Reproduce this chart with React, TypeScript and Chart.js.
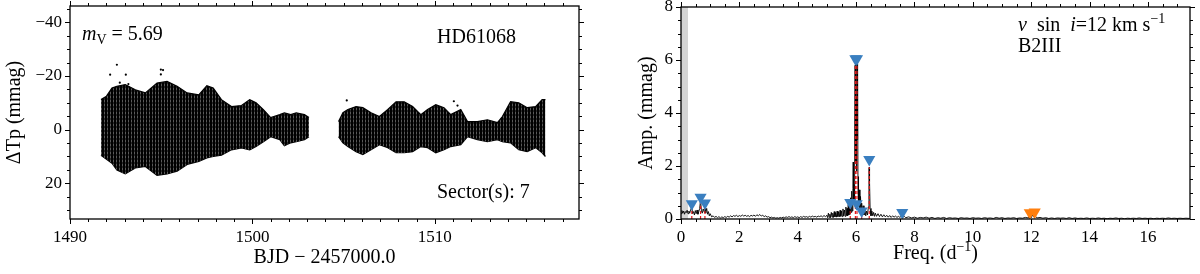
import React, { useEffect, useRef } from 'react';
import { Chart, registerables } from 'chart.js';

Chart.register(...registerables);

const SERIF = '"Liberation Serif", "Times New Roman", serif';

// ---------- Light curve (envelope of the dense TESS photometry, mmag) ----------
const seg1Time = [1491.70, 1492.00, 1492.30, 1492.57, 1493.03, 1493.58, 1494.13, 1494.77, 1495.32, 1495.87, 1496.42, 1497.06, 1497.50, 1497.85, 1498.30, 1498.85, 1499.40, 1499.85, 1500.20, 1500.60, 1501.00, 1501.50, 1501.75, 1502.10, 1502.40, 1502.85, 1503.10];
const seg1Top = [-11.2, -12.5, -15.5, -16.2, -16.8, -14.9, -13.7, -17.4, -18.0, -16.2, -13.7, -13.0, -16.4, -15.5, -11.2, -8.6, -9.0, -11.2, -10.0, -7.5, -4.5, -5.6, -6.3, -5.6, -6.3, -5.6, -4.5];
const seg1Bottom = [9.5, 11.0, 12.5, 15.0, 16.5, 14.3, 13.7, 17.0, 16.5, 15.5, 13.0, 11.8, 10.5, 10.0, 9.5, 7.5, 6.8, 7.5, 6.3, 4.5, 2.6, 3.7, 6.0, 4.9, 4.5, 3.7, 2.6];

const seg2Time = [1504.72, 1504.96, 1505.23, 1505.68, 1506.05, 1506.50, 1506.96, 1507.42, 1507.87, 1508.32, 1508.78, 1509.23, 1509.60, 1510.05, 1510.50, 1510.87, 1511.42, 1511.79, 1512.33, 1512.88, 1513.43, 1513.70, 1514.15, 1514.60, 1515.06, 1515.52, 1515.88, 1516.06];
const seg2Top = [-3.0, -6.3, -7.5, -8.6, -8.2, -6.3, -4.9, -7.5, -10.4, -10.4, -8.6, -5.6, -7.5, -9.3, -8.2, -5.6, -7.5, -3.0, -3.0, -3.7, -2.6, -4.9, -10.4, -10.0, -8.2, -8.6, -11.2, -11.2];
const seg2Bottom = [2.6, 4.9, 6.3, 8.2, 9.3, 7.5, 5.6, 6.7, 8.6, 8.6, 8.2, 6.3, 6.7, 8.6, 7.5, 6.3, 5.6, 2.6, 3.7, 4.5, 3.7, 4.5, 4.9, 7.5, 8.2, 6.7, 8.6, 10.0];

const outlierTime = [1492.20, 1492.57, 1492.73, 1493.06, 1493.20, 1494.98, 1495.10, 1494.98, 1505.17, 1511.04, 1511.24];
const outlierVal = [-20.5, -24.2, -17.5, -20.5, -17.0, -22.4, -22.2, -20.6, -10.9, -10.6, -9.0];

// ---------- Amplitude spectrum ----------
const periodogram: [number, number][] = [
  [0.00, 0.20], [0.03, 0.32], [0.06, 0.22], [0.09, 0.30], [0.12, 0.18], [0.15, 0.28], [0.18, 0.24], [0.21, 0.33],
  [0.24, 0.20], [0.27, 0.30], [0.30, 0.22], [0.33, 0.35], [0.37, 0.45], [0.40, 0.20], [0.43, 0.28], [0.46, 0.15],
  [0.49, 0.32], [0.52, 0.20], [0.55, 0.34], [0.58, 0.18], [0.61, 0.28], [0.64, 0.40], [0.67, 0.72], [0.70, 0.30],
  [0.73, 0.22], [0.76, 0.38], [0.80, 0.25], [0.82, 0.48], [0.85, 0.22], [0.88, 0.40], [0.91, 0.18], [0.94, 0.28],
  [0.97, 0.12], [1.00, 0.20], [1.05, 0.08], [1.10, 0.12], [1.15, 0.06], [1.20, 0.10], [1.25, 0.05], [1.30, 0.09],
  [1.35, 0.04], [1.40, 0.08], [1.45, 0.05], [1.50, 0.09], [1.55, 0.06], [1.60, 0.10], [1.65, 0.07], [1.70, 0.12],
  [1.75, 0.08], [1.80, 0.13], [1.85, 0.10], [1.90, 0.14], [1.95, 0.09], [2.00, 0.13], [2.05, 0.10], [2.10, 0.15],
  [2.15, 0.11], [2.20, 0.14], [2.25, 0.10], [2.30, 0.13], [2.35, 0.09], [2.40, 0.14], [2.45, 0.11], [2.50, 0.15],
  [2.55, 0.10], [2.60, 0.16], [2.65, 0.12], [2.70, 0.17], [2.75, 0.11], [2.80, 0.14], [2.85, 0.09], [2.90, 0.12],
  [2.95, 0.07], [3.00, 0.09], [3.05, 0.05], [3.10, 0.07], [3.15, 0.04], [3.20, 0.06], [3.25, 0.03], [3.30, 0.05],
  [3.35, 0.03], [3.40, 0.06], [3.45, 0.04], [3.50, 0.07], [3.55, 0.05], [3.60, 0.08], [3.65, 0.06], [3.70, 0.09],
  [3.75, 0.06], [3.80, 0.08], [3.85, 0.05], [3.90, 0.09], [3.95, 0.06], [4.00, 0.08], [4.05, 0.05], [4.10, 0.09],
  [4.15, 0.06], [4.20, 0.10], [4.25, 0.07], [4.30, 0.09], [4.35, 0.06], [4.40, 0.10], [4.45, 0.07], [4.50, 0.11],
  [4.55, 0.08], [4.60, 0.10], [4.65, 0.07], [4.70, 0.11], [4.75, 0.09], [4.80, 0.12], [4.85, 0.08], [4.90, 0.13],
  [4.95, 0.09], [5.00, 0.14], [5.025, 0.05], [5.05, 0.22], [5.075, 0.06], [5.10, 0.18], [5.125, 0.05], [5.15, 0.25],
  [5.175, 0.07], [5.20, 0.22], [5.225, 0.06], [5.25, 0.28], [5.275, 0.08], [5.30, 0.24], [5.325, 0.07], [5.35, 0.30],
  [5.375, 0.09], [5.40, 0.27], [5.425, 0.08], [5.45, 0.33], [5.475, 0.10], [5.50, 0.30], [5.525, 0.09], [5.55, 0.38],
  [5.575, 0.11], [5.60, 0.34], [5.625, 0.10], [5.65, 0.45], [5.67, 0.13], [5.69, 0.40], [5.71, 0.12], [5.73, 0.55],
  [5.75, 0.15], [5.77, 0.50], [5.79, 0.18], [5.81, 0.80], [5.83, 0.25], [5.85, 1.05], [5.87, 0.30], [5.89, 1.15],
  [5.90, 2.15], [5.915, 0.60], [5.93, 1.30], [5.945, 0.70], [5.955, 3.40], [5.965, 5.80], [5.975, 3.00], [5.985, 5.85],
  [5.995, 2.20], [6.005, 4.60], [6.015, 1.80], [6.025, 5.70], [6.035, 5.85], [6.045, 3.00], [6.055, 5.60], [6.065, 1.20],
  [6.075, 1.60], [6.09, 0.50], [6.11, 1.10], [6.13, 0.35], [6.15, 0.85], [6.17, 0.30], [6.19, 0.60], [6.21, 0.20],
  [6.24, 0.50], [6.27, 0.15], [6.30, 0.40], [6.33, 0.12], [6.36, 0.30], [6.39, 0.15], [6.42, 0.45], [6.44, 1.90],
  [6.45, 1.95], [6.46, 1.40], [6.48, 0.40], [6.51, 0.12], [6.54, 0.30], [6.57, 0.12], [6.60, 0.25], [6.63, 0.10],
  [6.66, 0.22], [6.70, 0.10], [6.75, 0.20], [6.80, 0.09], [6.85, 0.18], [6.90, 0.08], [6.95, 0.16], [7.00, 0.08],
  [7.05, 0.14], [7.10, 0.07], [7.15, 0.13], [7.20, 0.06], [7.25, 0.12], [7.30, 0.07], [7.35, 0.11], [7.40, 0.06],
  [7.45, 0.10], [7.50, 0.06], [7.55, 0.11], [7.58, 0.17], [7.61, 0.07], [7.65, 0.10], [7.70, 0.05], [7.80, 0.08],
  [7.90, 0.04], [8.00, 0.07], [8.10, 0.03], [8.20, 0.06], [8.30, 0.04], [8.40, 0.07], [8.50, 0.03], [8.60, 0.06],
  [8.70, 0.02], [8.80, 0.05], [8.90, 0.03], [9.00, 0.06], [9.10, 0.02], [9.20, 0.05], [9.30, 0.03], [9.40, 0.04],
  [9.50, 0.02], [9.60, 0.05], [9.70, 0.03], [9.80, 0.04], [9.90, 0.02], [10.00, 0.05], [10.10, 0.03], [10.20, 0.04],
  [10.30, 0.02], [10.40, 0.05], [10.50, 0.03], [10.60, 0.04], [10.70, 0.02], [10.80, 0.06], [10.90, 0.03], [11.00, 0.05],
  [11.10, 0.02], [11.20, 0.04], [11.30, 0.03], [11.40, 0.05], [11.50, 0.02], [11.60, 0.04], [11.70, 0.03], [11.80, 0.06],
  [11.90, 0.04], [11.95, 0.14], [12.00, 0.05], [12.05, 0.16], [12.10, 0.06], [12.15, 0.10], [12.20, 0.04], [12.30, 0.06],
  [12.40, 0.03], [12.50, 0.05], [12.60, 0.02], [12.70, 0.04], [12.80, 0.02], [12.90, 0.04], [13.00, 0.03], [13.10, 0.04],
  [13.20, 0.02], [13.30, 0.05], [13.40, 0.02], [13.50, 0.04], [13.60, 0.02], [13.70, 0.03], [13.80, 0.02], [13.90, 0.04],
  [14.00, 0.02], [14.10, 0.03], [14.20, 0.02], [14.30, 0.04], [14.40, 0.02], [14.50, 0.03], [14.60, 0.01], [14.70, 0.03],
  [14.80, 0.02], [14.90, 0.04], [15.00, 0.02], [15.10, 0.03], [15.20, 0.01], [15.30, 0.03], [15.40, 0.02], [15.50, 0.03],
  [15.60, 0.02], [15.70, 0.04], [15.80, 0.02], [15.90, 0.03], [16.00, 0.02], [16.10, 0.03], [16.20, 0.01], [16.30, 0.03],
  [16.40, 0.02], [16.50, 0.03], [16.60, 0.02], [16.70, 0.04], [16.80, 0.02], [16.90, 0.03], [17.00, 0.02], [17.10, 0.03],
  [17.20, 0.02], [17.30, 0.03], [17.43, 0.02],
];

// extracted frequencies (red dashed stems)
const stemFreq = [0.37, 0.67, 0.82, 5.80, 5.975, 6.03, 6.19, 6.45];
const stemAmp = [0.42, 0.70, 0.45, 0.50, 5.85, 5.85, 0.20, 1.95];

// markers (triangles)
const blueMarkFreq = [0.37, 0.67, 0.82, 5.80, 6.02, 6.19, 5.975, 6.03, 6.45, 7.58];
const blueMarkAmp = [0.58, 0.82, 0.60, 0.62, 0.58, 0.30, 6.05, 6.05, 2.25, 0.25];
const orangeMarkFreq = [11.95, 12.12];
const orangeMarkAmp = [0.24, 0.26];

const lowFreqLimit = 0.24; // shaded band

// ---------- plugins ----------
type Run = { t: string; it?: boolean; sub?: boolean; sup?: boolean };

function runFont(r: Run, size: number) {
  const s = r.sub || r.sup ? Math.round(size * 0.7) : size;
  return `${r.it ? 'italic ' : ''}${s}px ${SERIF}`;
}
function runsWidth(ctx: CanvasRenderingContext2D, runs: Run[], size: number) {
  let w = 0;
  for (const r of runs) { ctx.font = runFont(r, size); w += ctx.measureText(r.t).width; }
  return w;
}
function drawRuns(ctx: CanvasRenderingContext2D, x: number, y: number, runs: Run[], size: number, align: 'left' | 'center' = 'left') {
  let cx = align === 'center' ? x - runsWidth(ctx, runs, size) / 2 : x;
  ctx.textAlign = 'left';
  ctx.textBaseline = 'alphabetic';
  for (const r of runs) {
    ctx.font = runFont(r, size);
    const dy = r.sub ? size * 0.22 : r.sup ? -size * 0.42 : 0;
    ctx.fillText(r.t, cx, y + dy);
    cx += ctx.measureText(r.t).width;
  }
}

const framePlugin = {
  id: 'frameTicks',
  beforeDatasetsDraw(chart: any, _a: any, opts: any) {
    if (!opts.band) return;
    const { ctx, chartArea: a, scales } = chart;
    const x0 = scales.x.getPixelForValue(opts.band[0]);
    const x1 = scales.x.getPixelForValue(opts.band[1]);
    ctx.save();
    ctx.fillStyle = '#d4d4d4';
    ctx.fillRect(Math.max(x0, a.left), a.top, x1 - Math.max(x0, a.left), a.height);
    ctx.restore();
  },
  afterDraw(chart: any, _a: any, opts: any) {
    const { ctx, chartArea: a, scales } = chart;
    const xs = scales.x, ys = scales.y;
    ctx.save();
    ctx.strokeStyle = '#000';
    ctx.lineWidth = 1;
    const each = (sc: any, step: number, fn: (p: number) => void) => {
      const lo = Math.min(sc.min, sc.max), hi = Math.max(sc.min, sc.max);
      const start = Math.ceil(lo / step - 1e-9);
      for (let k = start; k * step <= hi + 1e-9; k++) fn(sc.getPixelForValue(k * step));
    };
    const xt = (len: number) => (p: number) => {
      const q = Math.round(p) + 0.5;
      ctx.beginPath();
      ctx.moveTo(q, a.bottom); ctx.lineTo(q, a.bottom + len);
      ctx.moveTo(q, a.top); ctx.lineTo(q, a.top - len);
      ctx.stroke();
    };
    const yt = (len: number) => (p: number) => {
      const q = Math.round(p) + 0.5;
      ctx.beginPath();
      ctx.moveTo(a.left, q); ctx.lineTo(a.left - len, q);
      ctx.moveTo(a.right, q); ctx.lineTo(a.right + len, q);
      ctx.stroke();
    };
    each(xs, opts.xMinor, xt(3));
    each(xs, opts.xMajor, xt(5));
    each(ys, opts.yMinor, yt(3));
    each(ys, opts.yMajor, yt(5));
    ctx.lineWidth = 1.3;
    ctx.strokeRect(a.left, a.top, a.right - a.left, a.bottom - a.top);
    ctx.fillStyle = '#000';
    for (const item of opts.texts || []) drawRuns(ctx, item.x, item.y, item.runs, item.size, item.align || 'left');
    ctx.restore();
  },
};

// vertical-stripe fill imitating the densely sampled points
function stripePattern(): CanvasPattern | string {
  const c = document.createElement('canvas');
  c.width = 3; c.height = 4;
  const g = c.getContext('2d');
  if (!g) return '#000';
  g.fillStyle = '#000'; g.fillRect(0, 0, 3, 4);
  g.fillStyle = '#5a5a5a'; g.fillRect(2, 0, 1, 2);
  g.fillStyle = '#2a2a2a'; g.fillRect(2, 2, 1, 2);
  return g.createPattern(c, 'repeat') || '#000';
}

const fmt = (v: any) => { const n = Number(v); return n < 0 ? '\u2212' + Math.abs(n) : String(n); };
const tickFont = { family: SERIF, size: 17 };
const titleFont = { family: SERIF, size: 20 };
const fitX = (s: any) => { s.height = 55; s.paddingLeft = 0; s.paddingRight = 0; s.paddingTop = 0; s.paddingBottom = 0; };
const fitY = (w: number) => (s: any) => { s.width = w; s.paddingLeft = 0; s.paddingRight = 0; s.paddingTop = 0; s.paddingBottom = 0; };

function makeLeft(canvas: HTMLCanvasElement) {
  const env = (t: number[], v: number[]) => t.map((x, i) => ({ x, y: v[i] }));
  const fillStyle = stripePattern();
  const band = { borderColor: '#000', backgroundColor: fillStyle, borderWidth: 1.2, pointRadius: 0, tension: 0 };
  return new Chart(canvas, {
    type: 'line',
    data: {
      datasets: [
        { ...band, data: env(seg1Time, seg1Top), fill: '+1' },
        { ...band, data: env(seg1Time, seg1Bottom), fill: false },
        { ...band, data: env(seg2Time, seg2Top), fill: '+1' },
        { ...band, data: env(seg2Time, seg2Bottom), fill: false },
        { data: env(outlierTime, outlierVal), showLine: false, pointRadius: 1.1, pointBackgroundColor: '#000', pointBorderWidth: 0 },
      ] as any,
    },
    options: {
      animation: false,
      responsive: false,
      devicePixelRatio: 1,
      events: [],
      layout: { padding: { left: 0, right: 21, top: 6, bottom: 0 } },
      plugins: {
        legend: { display: false },
        tooltip: { enabled: false },
        frameTicks: {
          xMajor: 10, xMinor: 1, yMajor: 20, yMinor: 5,
          texts: [
            { x: 82, y: 40, size: 20, runs: [{ t: 'm', it: true }, { t: 'V', sub: true }, { t: ' = 5.69' }] },
            { x: 437, y: 43, size: 20, runs: [{ t: 'HD61068' }] },
            { x: 437, y: 198, size: 20, runs: [{ t: 'Sector(s): 7' }] },
          ],
        },
      } as any,
      scales: {
        x: {
          type: 'linear', min: 1490, max: 1517.9,
          grid: { display: false, drawTicks: false }, border: { display: false },
          ticks: { stepSize: 10, includeBounds: false, font: tickFont, color: '#000', padding: 8, maxRotation: 0, autoSkip: false, callback: fmt },
          title: { display: true, text: 'BJD \u2212 2457000.0', font: titleFont, color: '#000', padding: { top: 0, bottom: 4 } },
          afterFit: fitX,
        },
        y: {
          type: 'linear', min: -46.1, max: 33.3, reverse: true,
          grid: { display: false, drawTicks: false }, border: { display: false },
          ticks: { stepSize: 20, includeBounds: false, font: tickFont, color: '#000', padding: 8, callback: fmt },
          title: { display: true, text: '\u0394Tp (mmag)', font: titleFont, color: '#000', padding: { top: 3, bottom: 0 } },
          afterFit: fitY(70),
        },
      } as any,
    },
    plugins: [framePlugin],
  });
}

function makeRight(canvas: HTMLCanvasElement) {
  const pts = (f: number[], a: number[]) => f.map((x, i) => ({ x, y: a[i] }));
  const stems = stemFreq.flatMap((f, i) => [{ x: f, y: 0 }, { x: f, y: stemAmp[i] }, { x: f, y: null }]);
  const tri = { showLine: false, pointStyle: 'triangle', pointRotation: 180, pointRadius: 7, pointBorderWidth: 0 };
  return new Chart(canvas, {
    type: 'line',
    data: {
      datasets: [
        { ...tri, data: pts(orangeMarkFreq, orangeMarkAmp), pointBackgroundColor: '#ff7f0e', pointBorderColor: '#ff7f0e' },
        { ...tri, data: pts(blueMarkFreq, blueMarkAmp), pointBackgroundColor: '#3a7fc0', pointBorderColor: '#3a7fc0' },
        { data: stems, borderColor: '#e41a1c', borderWidth: 1.2, borderDash: [3, 2], pointRadius: 0, spanGaps: false },
        { data: periodogram.map(([x, y]) => ({ x, y })), borderColor: '#000', borderWidth: 0.9, pointRadius: 0, tension: 0 },
      ] as any,
    },
    options: {
      animation: false,
      responsive: false,
      devicePixelRatio: 1,
      events: [],
      layout: { padding: { left: 0, right: 10, top: 6, bottom: 0 } },
      plugins: {
        legend: { display: false },
        tooltip: { enabled: false },
        frameTicks: {
          xMajor: 2, xMinor: 0.5, yMajor: 2, yMinor: 0.5,
          band: [0, lowFreqLimit],
          texts: [
            { x: 418, y: 31, size: 20, runs: [{ t: 'v', it: true }, { t: '  sin  ' }, { t: 'i', it: true }, { t: '=12 km s' }, { t: '\u22121', sup: true }] },
            { x: 418, y: 52, size: 20, runs: [{ t: 'B2III' }] },
            { x: 335.5, y: 259, size: 20, align: 'center', runs: [{ t: 'Freq. (d' }, { t: '\u22121', sup: true }, { t: ')' }] },
          ],
        },
      } as any,
      scales: {
        x: {
          type: 'linear', min: 0, max: 17.44,
          grid: { display: false, drawTicks: false }, border: { display: false },
          ticks: { stepSize: 2, includeBounds: false, font: tickFont, color: '#000', padding: 8, maxRotation: 0, autoSkip: false, callback: fmt },
          title: { display: false },
          afterFit: fitX,
        },
        y: {
          type: 'linear', min: 0, max: 8,
          grid: { display: false, drawTicks: false }, border: { display: false },
          ticks: { stepSize: 2, includeBounds: false, font: tickFont, color: '#000', padding: 8, callback: fmt },
          title: { display: true, text: 'Amp. (mmag)', font: titleFont, color: '#000', padding: { top: 35, bottom: 0 } },
          afterFit: fitY(81),
        },
      } as any,
    },
    plugins: [framePlugin],
  });
}

export default function App() {
  const leftRef = useRef<HTMLCanvasElement>(null);
  const rightRef = useRef<HTMLCanvasElement>(null);
  useEffect(() => {
    const c1 = makeLeft(leftRef.current!);
    const c2 = makeRight(rightRef.current!);
    return () => { c1.destroy(); c2.destroy(); };
  }, []);
  return (
    <div style={{ position: 'absolute', left: 0, top: 0, width: 1200, height: 274, background: '#fff', display: 'flex' }}>
      <canvas ref={leftRef} width={600} height={274} style={{ width: 600, height: 274, display: 'block' }} />
      <canvas ref={rightRef} width={600} height={274} style={{ width: 600, height: 274, display: 'block' }} />
    </div>
  );
}
